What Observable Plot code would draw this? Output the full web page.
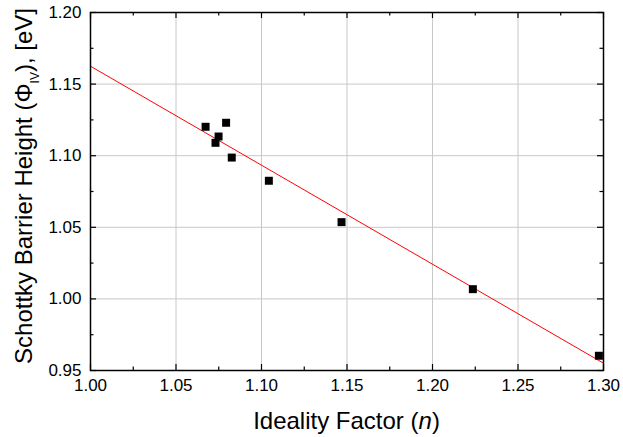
<!DOCTYPE html>
<html><head><meta charset="utf-8">
<script src="https://cdn.jsdelivr.net/npm/d3@7"></script>
<script src="https://cdn.jsdelivr.net/npm/@observablehq/plot@0.6"></script>
<style>html,body{margin:0;padding:0;background:#fff} svg{display:block}</style>
</head><body><div id="chart"></div>
<script>
// Measured data (ideality factor n vs. Schottky barrier height Φ_IV in eV)
const idealityN  = [1.0673, 1.0731, 1.0749, 1.0793, 1.0826, 1.1043, 1.1468, 1.2236, 1.2973];
const barrierPhi = [1.1202, 1.1090, 1.1134, 1.1230, 1.0987, 1.0825, 1.0536, 1.0068, 0.9603];
// Linear fit line (end points)
const fitN   = [1.00, 1.30];
const fitPhi = [1.1625, 0.9551];
// Ticks
const majorX = [1.00, 1.05, 1.10, 1.15, 1.20, 1.25, 1.30];
const minorX = [1.025, 1.075, 1.125, 1.175, 1.225, 1.275];
const majorY = [0.95, 1.00, 1.05, 1.10, 1.15, 1.20];
const minorY = [0.975, 1.025, 1.075, 1.125, 1.175];

const W = 623, H = 437, mL = 90, mR = 20, mT = 12, mB = 67;
const innerW = W - mL - mR, innerH = H - mT - mB;
const points = idealityN.map((n, i) => ({n, phi: barrierPhi[i]}));
const fit = fitN.map((n, i) => ({n, phi: fitPhi[i]}));
const tickStyle = {stroke: "#000", strokeWidth: 1.2};
const fmt = d3.format(".2f");

const chart = Plot.plot({
  width: W, height: H,
  marginLeft: mL, marginRight: mR, marginTop: mT, marginBottom: mB,
  style: {fontFamily: "Arial, 'Liberation Sans', sans-serif", fontSize: "17px", color: "#000", background: "#fff"},
  x: {domain: [1.0, 1.3]},
  y: {domain: [0.95, 1.2]},
  marks: [
    Plot.gridX(majorX, {stroke: "#c8c8c8", strokeOpacity: 1, strokeWidth: 1}),
    Plot.gridY(majorY, {stroke: "#c8c8c8", strokeOpacity: 1, strokeWidth: 1}),
    Plot.line(fit, {x: "n", y: "phi", stroke: "#ff0000", strokeWidth: 1}),
    Plot.dot(points, {x: "n", y: "phi", symbol: "square", r: 4.5, fill: "#000", stroke: null}),
    // inward ticks: bottom, top, left, right
    Plot.ruleX(majorX, {insetTop: innerH - 6, ...tickStyle}),
    Plot.ruleX(minorX, {insetTop: innerH - 3.5, ...tickStyle}),
    Plot.ruleX(majorX, {insetBottom: innerH - 6, ...tickStyle}),
    Plot.ruleX(minorX, {insetBottom: innerH - 3.5, ...tickStyle}),
    Plot.ruleY(majorY, {insetRight: innerW - 6, ...tickStyle}),
    Plot.ruleY(minorY, {insetRight: innerW - 3.5, ...tickStyle}),
    Plot.ruleY(majorY, {insetLeft: innerW - 6, ...tickStyle}),
    Plot.ruleY(minorY, {insetLeft: innerW - 3.5, ...tickStyle}),
    Plot.axisX(majorX, {tickSize: 0, tickPadding: 8, tickFormat: fmt, label: null, fontSize: 17}),
    Plot.axisY(majorY, {tickSize: 0, tickPadding: 9, tickFormat: fmt, label: null, fontSize: 17}),
    Plot.frame({stroke: "#000", strokeWidth: 1.5})
  ]
});
document.getElementById("chart").appendChild(chart);

const svg = d3.select(chart);
// x-axis title
const xt = svg.append("text")
  .attr("x", mL + innerW / 2).attr("y", 429)
  .attr("text-anchor", "middle").attr("font-size", 24).attr("fill", "#000");
xt.append("tspan").text("Ideality Factor (");
xt.append("tspan").attr("font-style", "italic").text("n");
xt.append("tspan").text(")");
// y-axis title
const yt = svg.append("text")
  .attr("transform", `translate(32,186) rotate(-90)`)
  .attr("text-anchor", "middle").attr("font-size", 24).attr("fill", "#000");
yt.append("tspan").text("Schottky Barrier Height (\u03A6");
yt.append("tspan").attr("font-size", 12).attr("dy", 7).text("IV");
yt.append("tspan").attr("dy", -7).text("), [eV]");
</script>
</body></html>
